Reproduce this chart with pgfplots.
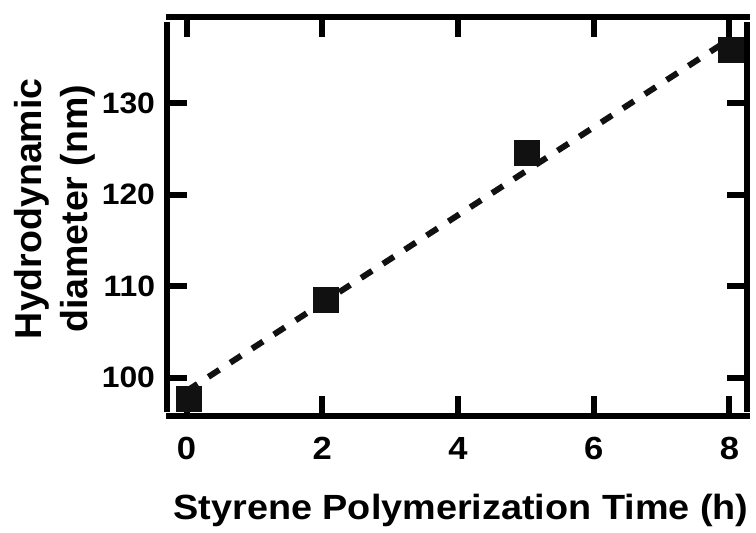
\documentclass[border=0pt]{standalone}
\usepackage{fontspec}
\setmainfont{Liberation Sans}
\newfontfamily\wide{Liberation Sans}[FakeStretch=1.08]
\usepackage{pgfplots}
\pgfplotsset{compat=1.18}
\definecolor{ink}{RGB}{17,17,17}
\begin{document}
\begin{tikzpicture}
\path[use as bounding box] (-167bp,-117bp) rectangle (589bp,416bp);
\begin{axis}[
  at={(0,0)}, anchor=south west,
  scale only axis, width=580bp, height=399.3bp,
  xmin=-0.289, xmax=8.259, ymin=95.82, ymax=139.42,
  axis line style={draw=none},
  xtick={0,2,4,6,8}, ytick={100,110,120,130},
  xticklabels={0,2,4,6,8}, yticklabels={100,110,120,130},
  tick align=inside, major tick length=20bp,
  tick style={line width=6bp, color=black},
  minor tick num=0,
  xticklabel style={font=\wide\fontsize{32bp}{36bp}\selectfont\bfseries, yshift=-18bp},
  yticklabel style={font=\wide\fontsize{29.5bp}{33bp}\selectfont\bfseries, xshift=-8.5bp},
  xlabel={Styrene Polymerization Time (h)},
  ylabel={Hydrodynamic\\diameter (nm)},
  xlabel style={font=\wide\fontsize{35bp}{42bp}\selectfont\bfseries, at={(axis description cs:0.507,-0.2356)}, anchor=center},
  ylabel style={font=\fontsize{37.5bp}{46bp}\selectfont\bfseries, at={(axis description cs:-0.194,0.519)}, anchor=center, align=center},
  clip=false,
]
\addplot[ink, line width=6bp, dash pattern=on 13bp off 13bp, no marks] coordinates {(0,98.55) (8,136.95)};
\addplot[only marks, mark=square*, mark size=12.5bp, mark options={fill=ink, draw=ink, line width=0.5bp, solid}] coordinates {
(0.025,97.7) (2.045,108.5) (5.01,124.6) (8.02,135.8)};
\end{axis}
\draw[line width=6bp] (-1bp,399.3bp) -- (583bp,399.3bp);
\draw[line width=6bp] (-1bp,0bp) -- (583bp,0bp);
\draw[line width=6bp] (0bp,4bp) -- (0bp,394bp);
\draw[line width=6bp] (580bp,4bp) -- (580bp,394bp);
\end{tikzpicture}
\end{document}
